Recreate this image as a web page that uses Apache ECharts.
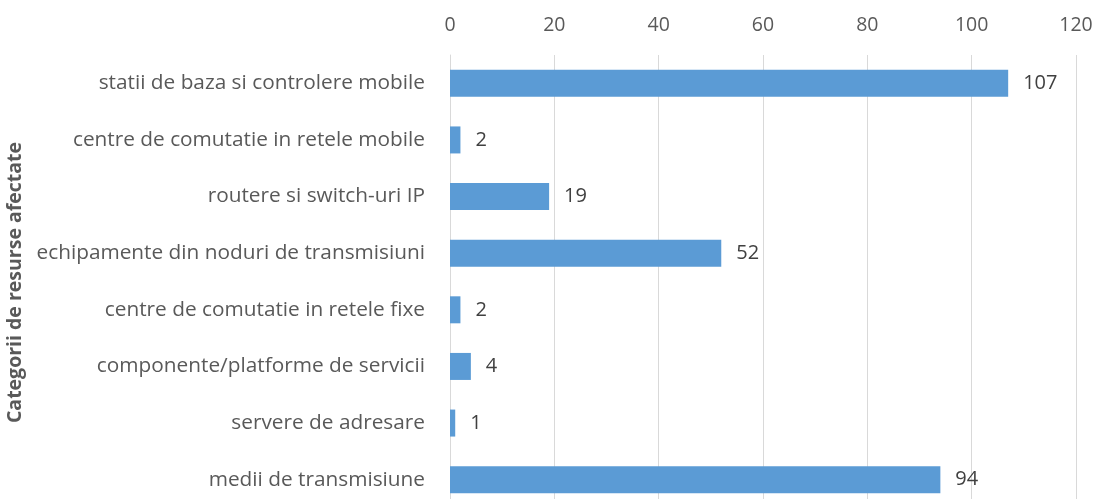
<!DOCTYPE html>
<html><head><meta charset="utf-8">
<script src="https://cdn.jsdelivr.net/npm/echarts@6/dist/echarts.min.js"></script>
<style>html,body{margin:0;padding:0;background:#fff}#c{width:1096px;height:499px}</style>
</head><body><div id="c"></div>
<script>
const categories = [
  "statii de baza si controlere mobile",
  "centre de comutatie in retele mobile",
  "routere si switch-uri IP",
  "echipamente din noduri de transmisiuni",
  "centre de comutatie in retele fixe",
  "componente/platforme de servicii",
  "servere de adresare",
  "medii de transmisiune"
];
const values = [107, 2, 19, 52, 2, 4, 1, 94];
const axisName = "Categorii de resurse afectate";
const FONT = "Open Sans";
const chart = echarts.init(document.getElementById('c'));
chart.setOption({
  animation: false,
  grid: { left: 450, right: 20, top: 55, height: 453, outerBoundsMode: 'none', containLabel: false },
  xAxis: {
    type: 'value', position: 'top', min: 0, max: 120, interval: 20,
    axisLine: { show: false }, axisTick: { show: false },
    splitLine: { lineStyle: { color: '#d9d9d9', width: 1 } },
    axisLabel: { color: '#595959', fontSize: 19.5, fontFamily: FONT, margin: 20 }
  },
  yAxis: {
    type: 'category', data: categories, inverse: true,
    axisLine: { show: true, lineStyle: { color: '#d9d9d9' } },
    axisTick: { show: false },
    axisLabel: { color: '#595959', fontSize: 20.8, fontFamily: FONT, margin: 25 },
    name: axisName, nameLocation: 'middle', nameGap: 417, nameRotate: 90,
    nameTextStyle: { color: '#595959', fontSize: 19.5, fontWeight: 'bold', fontFamily: FONT, padding: [0, 2, 0, 0] }
  },
  series: [{
    type: 'bar', data: values, barWidth: 27,
    itemStyle: { color: '#5b9bd5' },
    label: { show: true, position: 'right', distance: 15, color: '#404040', fontSize: 20, fontFamily: FONT }
  }]
});
</script></body></html>
